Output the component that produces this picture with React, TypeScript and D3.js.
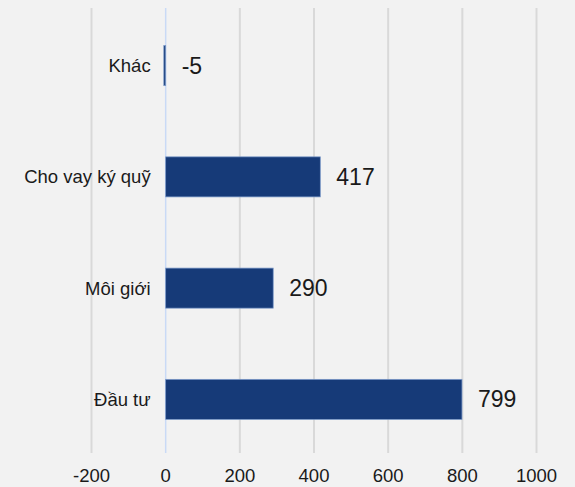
import React from "react";
import * as d3 from "d3";

const categories = ["Khác", "Cho vay ký quỹ", "Môi giới", "Đầu tư"];
const values = [-5, 417, 290, 799];
const xTicks = [-200, 0, 200, 400, 600, 800, 1000];

const W = 575;
const H = 487;

export default function App() {
  const x = d3.scaleLinear().domain([-200, 1000]).range([91.5, 536.5]);
  const y = d3.scaleBand().domain(categories).range([10, 455]).paddingInner(0.64).paddingOuter(0.32);
  const font = "'Liberation Sans', Arial, sans-serif";
  return (
    <svg width={W} height={H} style={{ position: "absolute", left: 0, top: 0 }} fontFamily={font}>
      <rect x={0} y={0} width={W} height={H} fill="#f2f2f2" />
      {xTicks.map((t) => (
        <line key={t} x1={x(t)} x2={x(t)} y1={8} y2={453} stroke={t === 0 ? "#c9daf6" : "#d9d9d9"} strokeWidth={t === 0 ? 1.5 : 2} />
      ))}
      {categories.map((c, i) => {
        const v = values[i];
        const x0 = x(Math.min(0, v));
        const x1 = x(Math.max(0, v));
        const yy = y(c)!;
        const bh = y.bandwidth();
        return (
          <g key={c}>
            <rect x={x0} y={yy} width={Math.max(1, x1 - x0)} height={bh} fill="#163a78" stroke="#7a98c8" strokeWidth={0.75} />
            <text x={x(0) - 15} y={yy + bh / 2} dy="0.35em" textAnchor="end" fontSize={18.5} fill="#1a1a1a">{c}</text>
            <text x={x(Math.max(0, v)) + 16} y={yy + bh / 2} dy="0.35em" textAnchor="start" fontSize={23} fill="#1a1a1a">{v}</text>
          </g>
        );
      })}
      {xTicks.map((t) => (
        <text key={"l" + t} x={x(t)} y={476} dy="0.35em" textAnchor="middle" fontSize={18.5} fill="#1a1a1a">{t}</text>
      ))}
    </svg>
  );
}
